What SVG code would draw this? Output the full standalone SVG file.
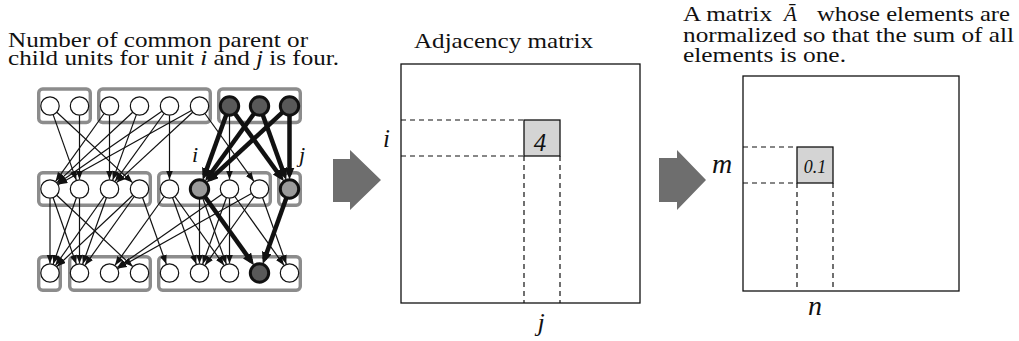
<svg xmlns="http://www.w3.org/2000/svg" width="1019" height="341" viewBox="0 0 1019 341">
<style>
text{font-family:"Liberation Serif","Times New Roman",serif;fill:#111}
.it{font-style:italic}
.box{fill:none;stroke:#8c8c8c;stroke-width:3.4}
.n{fill:#fff;stroke:#111;stroke-width:1.2}
.dk{fill:#595959;stroke:#111;stroke-width:3}
.md{fill:#9a9a9a;stroke:#111;stroke-width:3}
.e{stroke:#111;stroke-width:1.2;fill:none;marker-end:url(#ah)}
.t{stroke:#111;stroke-width:4.5;fill:none;marker-end:url(#ahb)}
.mat{fill:#fff;stroke:#111;stroke-width:1.3}
.cell{fill:#d4d4d4;stroke:#111;stroke-width:1.3}
.dash{fill:none;stroke:#111;stroke-width:1.2;stroke-dasharray:5 4}
.big{fill:#6e6e6e}
</style>
<defs>
<marker id="ah" markerUnits="userSpaceOnUse" markerWidth="10" markerHeight="8" refX="9" refY="3.5" orient="auto"><path d="M0,0 L9,3.5 L0,7 z" fill="#111"/></marker>
<marker id="ahb" markerUnits="userSpaceOnUse" markerWidth="13" markerHeight="11" refX="7" refY="5" orient="auto"><path d="M0,0 L12,5 L0,10 z" fill="#111"/></marker>
</defs>

<g id="title-left">
<text x="8" y="46.5" font-size="21" textLength="300" lengthAdjust="spacingAndGlyphs">Number of common parent or</text>
<text x="8" y="64.5" font-size="21" textLength="331" lengthAdjust="spacingAndGlyphs">child units for unit <tspan class="it">i</tspan> and <tspan class="it">j</tspan> is four.</text>
</g>

<g id="groups">
<rect class="box" x="38.7" y="89" width="51.6" height="33.5" rx="4"/>
<rect class="box" x="98.7" y="89" width="111.6" height="33.5" rx="4"/>
<rect class="box" x="218.7" y="89" width="81.6" height="33.5" rx="4"/>
<rect class="box" x="38.7" y="172.7" width="111.6" height="32.6" rx="4"/>
<rect class="box" x="158.7" y="172.7" width="111.6" height="32.6" rx="4"/>
<rect class="box" x="278.7" y="172.7" width="21.6" height="32.6" rx="4"/>
<rect class="box" x="38.7" y="256.7" width="21.6" height="33.6" rx="4"/>
<rect class="box" x="69.7" y="256.7" width="80.6" height="33.6" rx="4"/>
<rect class="box" x="158.7" y="256.7" width="141.6" height="33.6" rx="4"/>
</g>

<g id="connectors">
<path class="e" d="M53.1,114.6 L76.3,180.1"/>
<path class="e" d="M56.8,112.2 L132.5,182.6"/>
<path class="e" d="M79.5,115.2 L79.5,179.5"/>
<path class="e" d="M104.1,113.5 L55.6,181.3"/>
<path class="e" d="M109.5,115.2 L109.5,179.5"/>
<path class="e" d="M132.7,112.2 L57,182.6"/>
<path class="e" d="M136.4,114.6 L112.7,180.1"/>
<path class="e" d="M161.9,111.2 L57.8,183.6"/>
<path class="e" d="M164.1,113.5 L115.1,181.3"/>
<path class="e" d="M169.5,115.2 L169.5,179.5"/>
<path class="e" d="M191.5,110.5 L58.3,184.4"/>
<path class="e" d="M192.7,112.2 L116.5,182.6"/>
<path class="e" d="M204.9,113.5 L253.9,181.3"/>
<path class="e" d="M229.5,115.2 L229.5,179.5"/>

<path class="e" d="M50,198.2 L50,263.5"/>
<path class="e" d="M53.1,197.7 L76.3,264.1"/>
<path class="e" d="M56.7,195.3 L132.6,266.5"/>
<path class="e" d="M79.5,198.2 L79.5,263.5"/>
<path class="e" d="M76.4,197.7 L53.2,264.1"/>
<path class="e" d="M104.2,196.5 L55.5,265.3"/>
<path class="e" d="M106.4,197.7 L82.7,264.1"/>
<path class="e" d="M132.8,195.3 L56.9,266.5"/>
<path class="e" d="M134.2,196.5 L85,265.3"/>
<path class="e" d="M142.6,197.7 L166.3,264.1"/>
<path class="e" d="M164.2,196.5 L115,265.3"/>
<path class="e" d="M172.6,197.7 L196.3,264.1"/>
<path class="e" d="M174.8,196.5 L224,265.3"/>
<path class="e" d="M199.5,198.2 L199.5,263.5"/>
<path class="e" d="M202.6,197.7 L226.3,264.1"/>
<path class="e" d="M222,194.3 L117.3,267.6"/>
<path class="e" d="M226.4,197.7 L202.7,264.1"/>
<path class="e" d="M229.5,198.2 L229.5,263.5"/>
<path class="e" d="M234.8,196.5 L284,265.3"/>
<path class="e" d="M251.5,193.5 L117.8,268.4"/>
<path class="e" d="M254.2,196.5 L205,265.3"/>
<path class="e" d="M262.6,197.7 L286.3,264.1"/>

<path class="t" d="M226.4,114.6 L204.4,175.4"/>
<path class="t" d="M254.1,113.5 L208,177.2"/>
<path class="t" d="M282.7,112.2 L210.2,179.2"/>
<path class="t" d="M234.9,113.5 L281,177.2"/>
<path class="t" d="M262.6,114.6 L284.6,175.4"/>
<path class="t" d="M289.5,115.2 L289.5,174.5"/>
<path class="t" d="M204.8,196.5 L251.1,261.2"/>
<path class="t" d="M286.4,197.7 L264.4,259.3"/>
</g>

<g id="top-row">
<g id="t0"><circle class="n" cx="50" cy="106" r="9.2"/></g>
<g id="t1"><circle class="n" cx="79.5" cy="106" r="9.2"/></g>
<g id="t2"><circle class="n" cx="109.5" cy="106" r="9.2"/></g>
<g id="t3"><circle class="n" cx="139.5" cy="106" r="9.2"/></g>
<g id="t4"><circle class="n" cx="169.5" cy="106" r="9.2"/></g>
<g id="t5"><circle class="n" cx="199.5" cy="106" r="9.2"/></g>
<g id="t6"><circle class="dk" cx="229.5" cy="106" r="9.2"/></g>
<g id="t7"><circle class="dk" cx="259.5" cy="106" r="9.2"/></g>
<g id="t8"><circle class="dk" cx="289.5" cy="106" r="9.2"/></g>
</g>
<g id="mid-row">
<g id="m0"><circle class="n" cx="50" cy="189" r="9.2"/></g>
<g id="m1"><circle class="n" cx="79.5" cy="189" r="9.2"/></g>
<g id="m2"><circle class="n" cx="109.5" cy="189" r="9.2"/></g>
<g id="m3"><circle class="n" cx="139.5" cy="189" r="9.2"/></g>
<g id="m4"><circle class="n" cx="169.5" cy="189" r="9.2"/></g>
<g id="m5"><circle class="md" cx="199.5" cy="189" r="9.2"/></g>
<g id="m6"><circle class="n" cx="229.5" cy="189" r="9.2"/></g>
<g id="m7"><circle class="n" cx="259.5" cy="189" r="9.2"/></g>
<g id="m8"><circle class="md" cx="289.5" cy="189" r="9.2"/></g>
</g>
<g id="bot-row">
<g id="b0"><circle class="n" cx="50" cy="273" r="9.2"/></g>
<g id="b1"><circle class="n" cx="79.5" cy="273" r="9.2"/></g>
<g id="b2"><circle class="n" cx="109.5" cy="273" r="9.2"/></g>
<g id="b3"><circle class="n" cx="139.5" cy="273" r="9.2"/></g>
<g id="b4"><circle class="n" cx="169.5" cy="273" r="9.2"/></g>
<g id="b5"><circle class="n" cx="199.5" cy="273" r="9.2"/></g>
<g id="b6"><circle class="n" cx="229.5" cy="273" r="9.2"/></g>
<g id="b7"><circle class="dk" cx="259.5" cy="273" r="9.2"/></g>
<g id="b8"><circle class="n" cx="289.5" cy="273" r="9.2"/></g>
</g>
<g id="net-labels">
<text class="it" x="192" y="162" font-size="22">i</text>
<text class="it" x="299" y="162" font-size="22">j</text>
</g>

<g id="arrow1"><polygon class="big" points="333,159 350,159 350,150 381,180 350,210 350,202 333,202"/></g>
<g id="arrow2"><polygon class="big" points="659,158 677,158 677,150 706,180 677,210 677,202 659,202"/></g>

<g id="matrix1">
<text x="414" y="48" font-size="22" textLength="179" lengthAdjust="spacingAndGlyphs">Adjacency matrix</text>
<rect class="mat" x="401" y="64" width="239" height="239"/>
<path class="dash" d="M401,120 H524 M401,156 H524 M524,156 V303 M560,156 V303"/>
<rect class="cell" x="524" y="120" width="36" height="36"/>
<text class="it" x="540" y="151" font-size="25" text-anchor="middle">4</text>
<text class="it" x="383" y="147" font-size="25">i</text>
<text class="it" x="541" y="331" font-size="26" text-anchor="middle">j</text>
</g>

<g id="matrix2">
<text x="683" y="21" font-size="21"><tspan x="683" textLength="89" lengthAdjust="spacingAndGlyphs">A matrix</tspan><tspan class="it" x="784">Ā</tspan><tspan x="817" textLength="193" lengthAdjust="spacingAndGlyphs">whose elements are</tspan></text>
<text x="683" y="41.5" font-size="21" textLength="331" lengthAdjust="spacingAndGlyphs">normalized so that the sum of all</text>
<text x="683" y="62" font-size="21" textLength="163" lengthAdjust="spacingAndGlyphs">elements is one.</text>
<rect class="mat" x="743" y="76" width="216" height="215"/>
<path class="dash" d="M743,147 H797 M743,183 H797 M797,183 V291 M833,183 V291"/>
<rect class="cell" x="797" y="147" width="36" height="36"/>
<text class="it" x="815" y="173" font-size="18" text-anchor="middle">0.1</text>
<text class="it" x="712" y="173" font-size="28">m</text>
<text class="it" x="815" y="315" font-size="28" text-anchor="middle">n</text>
</g>
</svg>
